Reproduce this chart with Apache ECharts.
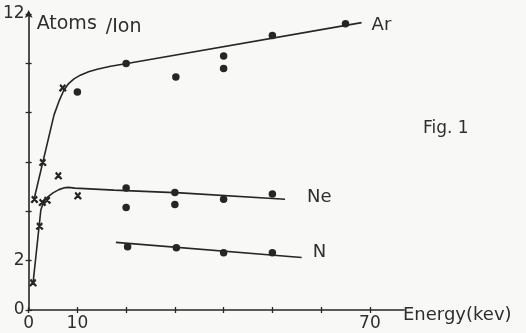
<!DOCTYPE html>
<html>
<head>
<meta charset="utf-8">
<script src="https://cdn.jsdelivr.net/npm/echarts@6/dist/echarts.min.js"></script>
<style>
html,body{margin:0;padding:0;background:#f8f8f6;}
#c{width:526px;height:333px;}
</style>
</head>
<body>
<div id="c"></div>
<script>
// ---- data (Energy keV, Atoms/Ion) ----
var xTickValues = [0, 10, 20, 30, 40, 50, 60, 70];
var xLabelValues = [0, 10, 70];
var yTickValues = [0, 2, 4, 6, 8, 10, 12];
var yLabelValues = [0, 2, 12];

var arCurve = [[1.1,4.48],[5.2,7.9],[6.3,8.5],[7.2,8.9],[8.2,9.18],[9.3,9.37],[10.6,9.52],[12.3,9.66],[14.06,9.76],[16.8,9.88],[20.2,9.99],[68.3,11.65]];
var neCurve = [[0.9,1.08],[2.5,4.05],[3.1,4.4],[4.0,4.6],[5.0,4.75],[6.2,4.88],[7.2,4.95],[8.2,4.97],[9.5,4.94],[17.5,4.86],[31.1,4.75],[52.6,4.49]];
var nLine = [[17.9,2.74],[56,2.13]];

var arDots = [[10,8.84],[20,9.99],[30.2,9.45],[40,10.3],[40,9.79],[50,11.13],[65,11.6]];
var arCrosses = [[7.0,9.0],[2.9,5.98],[1.2,4.48]];
var neDots = [[20,4.95],[20,4.16],[30,4.76],[30,4.28],[40,4.49],[50,4.70]];
var neCrosses = [[0.9,1.1],[2.25,3.4],[2.8,4.36],[3.8,4.45],[6.1,5.44],[10.1,4.63]];
var nDots = [[20.3,2.56],[30.3,2.52],[40,2.32],[50,2.32]];

var ink = '#262626';
var txt = '#2e2e2e';
var font = 'DejaVu Sans';

function lineSeries(data, label, dist, off) {
  return {
    type: 'line', data: data, smooth: false,
    showSymbol: false, symbol: 'none', silent: true,
    lineStyle: {color: ink, width: 1.6},
    endLabel: {show: true, formatter: label, distance: dist, offset: off, color: txt, fontFamily: font, fontSize: 18}
  };
}
function dotSeries(data) {
  return {type: 'scatter', data: data, symbol: 'circle', symbolSize: 7.5,
    itemStyle: {color: ink, opacity: 1}, silent: true};
}
function crossSeries(data) {
  return {type: 'scatter', data: data, symbol: 'path://M1,1 L9,9 M9,1 L1,9 M1.5,0 L10,8.5 M8.5,0 L0,8.5', symbolSize: 7,
    itemStyle: {color: 'none', borderColor: ink, borderWidth: 1.5, opacity: 1}, silent: true};
}

var chart = echarts.init(document.getElementById('c'), null, {renderer: 'canvas'});
chart.setOption({
  backgroundColor: '#f8f8f6',
  animation: false,
  title: {text: 'Fig. 1', left: 418, top: 115, textStyle: {fontFamily: font, fontSize: 17, fontWeight: 'normal', color: txt}},
  grid: {left: 28, right: 122, top: 14, bottom: 23},
  xAxis: [{
    type: 'value', min: 0, max: 77,
    name: 'Energy(kev)', nameLocation: 'end', nameGap: -1,
    nameTextStyle: {fontFamily: font, fontSize: 18, color: txt, verticalAlign: 'top', align: 'left', padding: [-4,0,0,0]},
    axisLine: {lineStyle: {color: ink, width: 1.6}},
    axisTick: {show: true, length: 3, customValues: xTickValues, lineStyle: {color: ink, width: 1.3}},
    axisLabel: {show: true, customValues: xLabelValues, margin: 5, fontFamily: font, fontSize: 17, color: txt},
    splitLine: {show: false}
  }, {
    type: 'value', min: 0, max: 77, position: 'bottom',
    axisLine: {show: false},
    axisTick: {show: true, inside: true, length: 3, customValues: xTickValues, lineStyle: {color: ink, width: 1.3}},
    axisLabel: {show: false}, splitLine: {show: false}
  }],
  yAxis: [{
    type: 'value', min: 0, max: 12,
    name: '{a|Atoms}{b|/Ion}', nameLocation: 'end', nameGap: -10,
    nameTextStyle: {align: 'left', verticalAlign: 'middle', padding: [0,0,0,8],
      rich: {a: {fontFamily: font, fontSize: 19, color: txt},
             b: {fontFamily: font, fontSize: 19, color: txt, padding: [7,0,0,9]}}},
    axisLine: {show: true, symbol: ['none', 'arrow'], symbolSize: [6, 8], symbolOffset: [0, 4], lineStyle: {color: ink, width: 1.6}},
    axisTick: {show: true, length: 3, customValues: yTickValues, lineStyle: {color: ink, width: 1.3}},
    axisLabel: {show: true, customValues: yLabelValues, margin: 4, fontFamily: font, fontSize: 17, color: txt},
    splitLine: {show: false}
  }, {
    type: 'value', min: 0, max: 12, position: 'left',
    axisLine: {show: false},
    axisTick: {show: true, inside: true, length: 3, customValues: yTickValues, lineStyle: {color: ink, width: 1.3}},
    axisLabel: {show: false}, splitLine: {show: false}
  }],
  series: [
    lineSeries(arCurve, 'Ar', 10, [0, 3]),
    lineSeries(neCurve, 'Ne', 22, [0, -2]),
    lineSeries(nLine, 'N', 11, [0, -5]),
    dotSeries(arDots),
    crossSeries(arCrosses),
    dotSeries(neDots),
    crossSeries(neCrosses),
    dotSeries(nDots)
  ]
});
</script>
</body>
</html>
